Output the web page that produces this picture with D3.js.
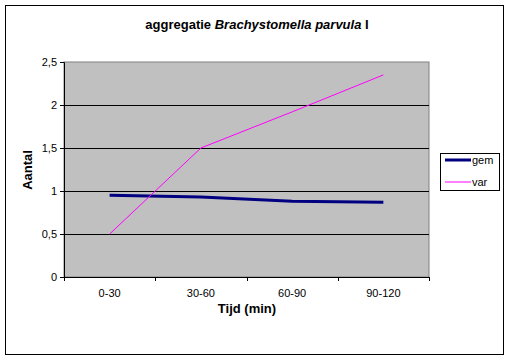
<!DOCTYPE html>
<html><head><meta charset="utf-8">
<script src="https://cdn.jsdelivr.net/npm/d3@7"></script>
<style>body{margin:0;background:#fff}svg{display:block}</style>
</head><body>
<script>
const categories = ["0-30","30-60","60-90","90-120"];
const gem = [0.95, 0.93, 0.88, 0.87];
const variance = [0.5, 1.5, 1.92, 2.35];
const yTicks = [0, 0.5, 1, 1.5, 2, 2.5];
const seriesNames = ["gem","var"];

const W = 510, H = 360;
const svg = d3.select("body").append("svg").attr("width", W).attr("height", H)
  .style("font-family", "Arial, 'Liberation Sans', sans-serif");
svg.append("rect").attr("x",0).attr("y",0).attr("width",W).attr("height",H).attr("fill","#fff");
svg.append("rect").attr("x",5.5).attr("y",5.5).attr("width",498).attr("height",349)
  .attr("fill","#fff").attr("stroke","#000").attr("stroke-width",1);

const pl = 64, pr = 429, pt = 62, pb = 277;
const x = d3.scaleBand().domain(categories).range([pl, pr]);
const y = d3.scaleLinear().domain([0, 2.5]).range([pb, pt]);

svg.append("rect").attr("x",pl).attr("y",pt).attr("width",pr-pl).attr("height",pb-pt)
  .attr("fill","#c0c0c0").attr("stroke","#808080").attr("stroke-width",1);

// gridlines
svg.append("g").selectAll("line").data(yTicks.filter(d=>d>0 && d<2.5)).join("line")
  .attr("x1",pl).attr("x2",pr).attr("y1",d=>Math.round(y(d))+0.5).attr("y2",d=>Math.round(y(d))+0.5)
  .attr("stroke","#000").attr("stroke-width",1);

// y axis
const yAxis = svg.append("g").attr("transform",`translate(${pl},0)`)
  .call(d3.axisLeft(y).tickValues(yTicks).tickSize(4).tickPadding(3)
    .tickFormat(d=>String(d).replace(".",",")));
yAxis.select(".domain").attr("stroke","#000");
yAxis.selectAll("text").attr("font-size",11).attr("fill","#000");
yAxis.selectAll("line").attr("stroke","#000");

// x axis
const xAxis = svg.append("g").attr("transform",`translate(0,${pb})`)
  .call(d3.axisBottom(x).tickSize(0).tickPadding(12));
xAxis.select(".domain").attr("stroke","#000");
xAxis.selectAll("text").attr("font-size",11).attr("fill","#000");
const bounds = categories.map(c=>x(c)).concat([x(categories[categories.length-1])+x.bandwidth()]);
xAxis.selectAll(".bt").data(bounds).join("line").attr("class","bt")
  .attr("x1",d=>Math.round(d)+0.5).attr("x2",d=>Math.round(d)+0.5).attr("y1",0).attr("y2",4)
  .attr("stroke","#000");

const cx = c => x(c) + x.bandwidth()/2;
const line = d3.line().x((d,i)=>cx(categories[i])).y(d=>y(d));
svg.append("path").datum(gem).attr("d",line).attr("fill","none")
  .attr("stroke","#000080").attr("stroke-width",3);
svg.append("path").datum(variance).attr("d",line).attr("fill","none")
  .attr("stroke","#ff00ff").attr("stroke-width",1);

// title
const t = svg.append("text").attr("x",257).attr("y",29).attr("text-anchor","middle")
  .attr("font-size",13).attr("font-weight","bold");
t.append("tspan").text("aggregatie ");
t.append("tspan").attr("font-style","italic").text("Brachystomella parvula");
t.append("tspan").text(" I");

svg.append("text").attr("transform","translate(32,170) rotate(-90)").attr("text-anchor","middle")
  .attr("font-size",13).attr("font-weight","bold").text("Aantal");
svg.append("text").attr("x",247).attr("y",313).attr("text-anchor","middle")
  .attr("font-size",13).attr("font-weight","bold").text("Tijd (min)");

// legend
const lg = svg.append("g");
lg.append("rect").attr("x",440.5).attr("y",153.5).attr("width",59).attr("height",37)
  .attr("fill","#fff").attr("stroke","#000");
const colors = ["#000080","#ff00ff"], widths = [3,1];
seriesNames.forEach((n,i)=>{
  const yy = 160 + i*22;
  lg.append("line").attr("x1",445).attr("x2",471).attr("y1",yy).attr("y2",yy)
    .attr("stroke",colors[i]).attr("stroke-width",widths[i]);
  lg.append("text").attr("x",472).attr("y",yy+4).attr("font-size",11).text(n);
});
</script>
</body></html>
